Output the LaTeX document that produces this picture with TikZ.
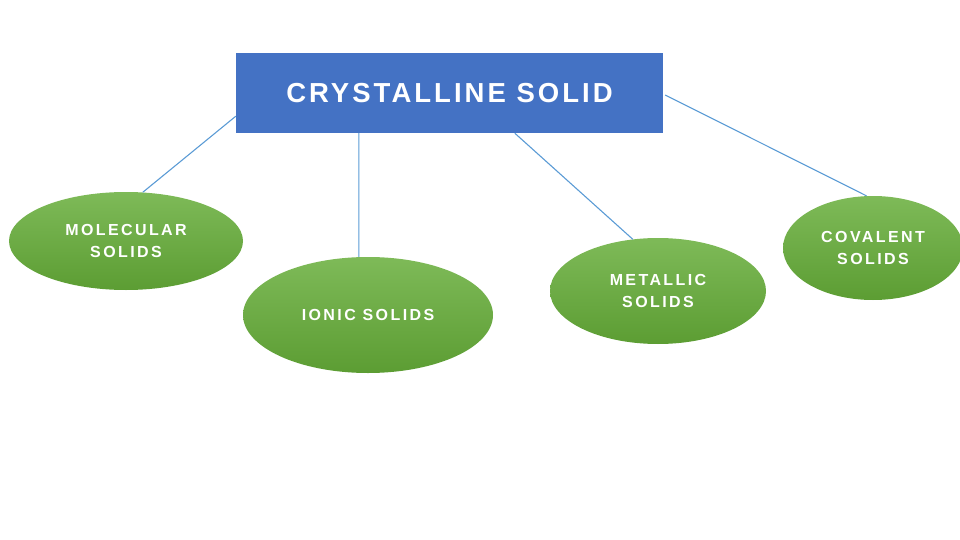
\documentclass[tikz,border=0pt]{standalone}
\usepackage{fontspec}
\setmainfont{Liberation Sans}
\newfontfamily\titlefont{Liberation Sans}[LetterSpace=11]
\newfontfamily\bubblefont{Liberation Sans}[LetterSpace=15]
\usetikzlibrary{shapes.geometric,calc}
\definecolor{boxblue}{HTML}{4472C4}
\definecolor{linkblue}{HTML}{5B9BD5}
\definecolor{gtop}{HTML}{7EBA58}
\definecolor{gbot}{HTML}{5C9D33}
\tikzset{
  titlebox/.style={fill=boxblue, draw=none, minimum width=427pt, minimum height=80pt, inner sep=0pt,
    text=white, font=\titlefont\bfseries\fontsize{27.5}{30}\selectfont},
  bubble/.style={ellipse, draw=none, inner sep=0pt, top color=gtop, bottom color=gbot,
    text=white, align=center, font=\bubblefont\bfseries\fontsize{16}{22}\selectfont},
  link/.style={draw=linkblue, line width=1.1pt}
}
\begin{document}
\begin{tikzpicture}[x=1pt,y=-1pt]
\useasboundingbox (0,0) rectangle (960,540);
\node[titlebox] (box) at (449.5,93) {CRYSTALLINE SOLID};
\node[bubble, minimum width=234pt, minimum height=98pt] (mol) at (126,241) {MOLECULAR\\SOLIDS};
\node[bubble, minimum width=250pt, minimum height=116pt] (ion) at (368,315) {IONIC SOLIDS};
\node[bubble, minimum width=216pt, minimum height=106pt] (met) at (658,291) {METALLIC\\SOLIDS};
\node[bubble, minimum width=180pt, minimum height=104pt] (cov) at (873,248) {COVALENT\\SOLIDS};
\draw[link] ($(box.south west)+(0,-17)$) -- (mol.71);
\draw[link] ($(box.south west)+(123,0)$) -- (ion.99);
\draw[link] ($(box.south west)+(279,0)$) -- (met.116);
\draw[link] ($(box.east)+(2,2)$) -- (cov.97);
\end{tikzpicture}
\end{document}
